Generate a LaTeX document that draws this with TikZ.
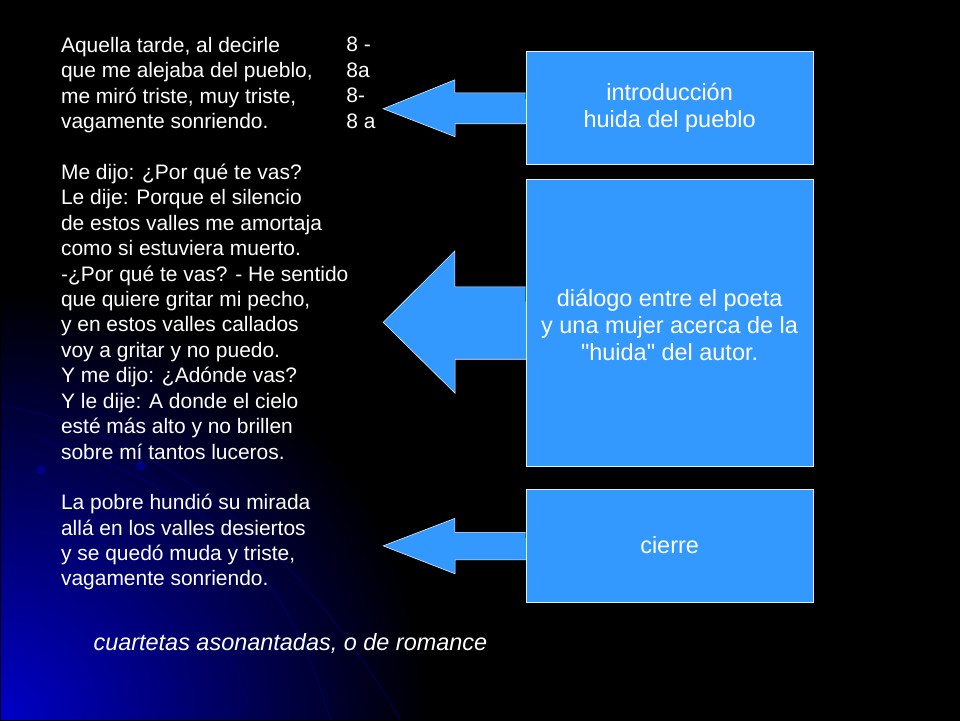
\documentclass[tikz,border=0pt]{standalone}
\usepackage{fontspec}
\setmainfont{Liberation Sans}
\usetikzlibrary{positioning}

\definecolor{boxblue}{RGB}{51,153,255}
\definecolor{glow}{RGB}{0,0,200}

\tikzset{
    verse/.style={anchor=north west,align=left,text=white,inner sep=0pt,
        font=\fontsize{21}{25.5}\selectfont},
    part/.style={draw=white!85!boxblue,fill=boxblue,text=white,align=center,
        minimum width=288pt,font=\fontsize{23.5}{27}\selectfont},
    pointer/.style={fill=boxblue,draw=white!85!boxblue,line width=0.6pt}
}

\begin{document}
\begin{tikzpicture}[x=1pt,y=-1pt]
    % background
    \fill[black] (-1,-1) rectangle (961,721);
    \begin{scope}
    \clip (0,0) rectangle (960,720);
    \fill[inner color=glow,outer color=black] (0,720) circle (430);
    \draw[blue!55!black,thin] (0,405) .. controls (200,440) and (330,600) .. (400,720);
    \draw[blue!55!black,thin] (40,440) .. controls (250,500) and (300,620) .. (330,720);
    \draw[blue!45!black,thin] (0,470) .. controls (140,520) and (230,620) .. (250,720);
    \fill[blue!50!black] (40,470) circle (5);
    \fill[blue!50!black] (140,466) circle (5);
    \end{scope}
    \useasboundingbox (0,0) rectangle (960,720);

    % poem
    \node[verse] (st1) at (60,36) {Aquella tarde, al decirle\\que me alejaba del pueblo,\\me miró triste, muy triste,\\vagamente sonriendo.};
    \node[verse] (meter) at (346,36) {8 -\\8a\\8-\\8 a};
    \node[verse] (st2) at (60,163) {Me dijo: ¿Por qué te vas?\\Le dije: Porque el silencio\\de estos valles me amortaja\\como si estuviera muerto.\\-¿Por qué te vas? - He sentido\\que quiere gritar mi pecho,\\y en estos valles callados\\voy a gritar y no puedo.\\Y me dijo: ¿Adónde vas?\\Y le dije: A donde el cielo\\esté más alto y no brillen\\sobre mí tantos luceros.};
    \node[verse] (st3) at (60,494) {La pobre hundió su mirada\\allá en los valles desiertos\\y se quedó muda y triste,\\vagamente sonriendo.};
    \node[text=white,font=\fontsize{23.5}{27}\selectfont\itshape] (form) at (290,644) {cuartetas asonantadas, o de romance};

    % boxes
    \node[part,minimum height=114pt] (intro) at (670,107) {introducción\\ huida del pueblo};
    \node[part,minimum height=287pt] (dialog) at (670,322.5) {};
    \node[text=white,align=center,font=\fontsize{23.5}{27}\selectfont] (dialogtext) at (670,325) {diálogo entre el poeta\\ y una mujer acerca de la\\ \textquotedbl huida\textquotedbl{} del autor.};
    \node[part,minimum height=113pt] (close) at (670,545.5) {cierre};

    % arrows
    \draw[pointer] (intro.west) ++(0,-15) -- ++(-71,0) -- ++(0,-13) -- (383,108) -- (455,136) -- ++(0,-13) -- ++(71,0);
    \draw[pointer] (dialog.west) ++(0,-36) -- ++(-71,0) -- ++(0,-36) -- (383,322) -- (455,393) -- ++(0,-34) -- ++(71,0);
    \draw[pointer] (close.west) ++(0,-13) -- ++(-71,0) -- ++(0,-14) -- (383,546) -- (455,574) -- ++(0,-14) -- ++(71,0);
\end{tikzpicture}
\end{document}
